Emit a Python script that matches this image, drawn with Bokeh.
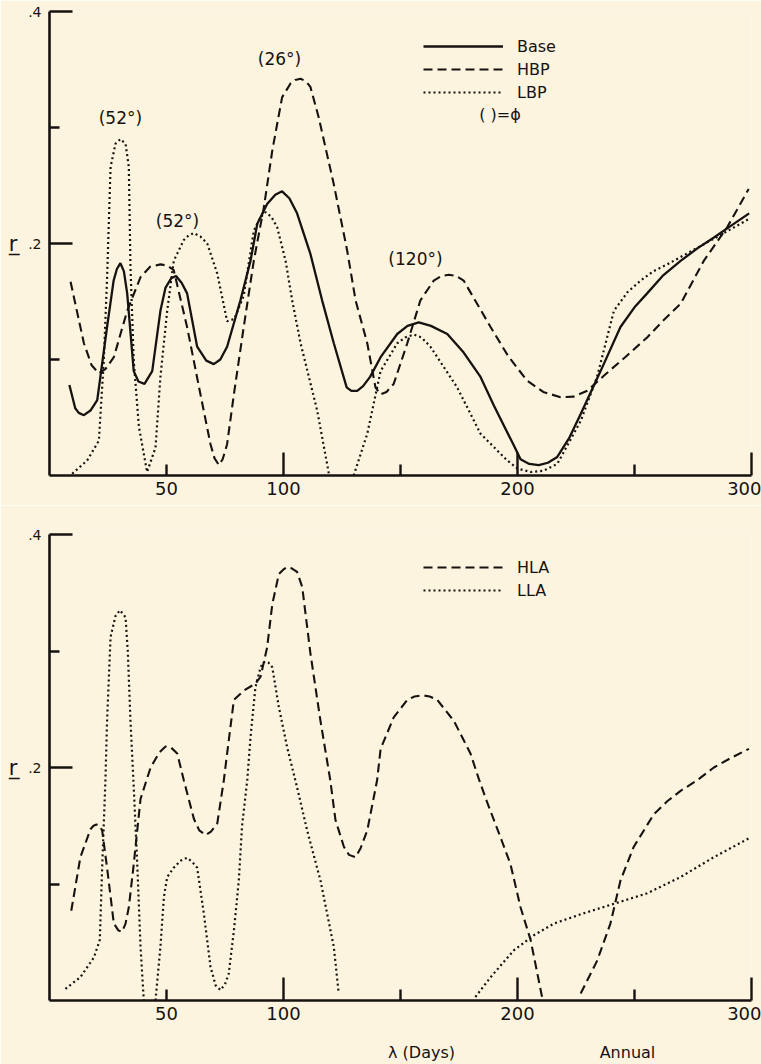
from bokeh.plotting import figure
from bokeh.models import (Range1d, LinearAxis, FixedTicker, Label, Legend, LegendItem)
from bokeh.layouts import column
from bokeh.embed import file_html
from bokeh.resources import INLINE

nan = float("nan")

# ---------------- data ----------------
x_ticks_labeled = [50, 100, 200, 300]
x_ticks_major = [100, 200, 300]
x_ticks_minor = [50, 150, 250]
y_ticks_major = [0.2, 0.4]
y_ticks_minor = [0.1, 0.3]
y_tick_labels = {0.2: ".2", 0.4: ".4"}
y_name = "r\u0332"
x_names = {159: "\u03bb (Days)", 247: "Annual"}

# top panel
base_x = [8.5, 11.0, 12.5, 14.7, 17.5, 20.4, 24.6, 27.4, 28.8, 30.3, 31.8, 33.2, 36.0, 38.0, 40.6,
          43.9, 47.4, 49.6, 52.0, 54.1, 56.5, 58.8, 63.1, 67.0, 70.2, 73.0, 75.9, 81.6, 85.9,
          88.8, 93.0, 96.5, 99.4, 102.5, 105.8, 111.5, 116.5, 121.5, 127.0, 129.0, 131.5, 134.0,
          137.0, 141.5, 148.6, 153.0, 157.8, 163.0, 170.0, 177.0, 184.2, 190.0, 198.4, 201.3,
          205.0, 209.1, 213.0, 217.0, 222.0, 227.0, 235.5, 244.0, 250.0, 255.4, 262.0, 269.7,
          277.0, 283.8, 291.0, 299.0]
base_r = [0.078, 0.058, 0.054, 0.052, 0.056, 0.065, 0.128, 0.168, 0.178, 0.183, 0.176, 0.157, 0.090,
          0.081, 0.079, 0.090, 0.142, 0.162, 0.170, 0.172, 0.166, 0.157, 0.111, 0.099, 0.096,
          0.100, 0.111, 0.151, 0.185, 0.217, 0.234, 0.242, 0.245, 0.239, 0.226, 0.191, 0.151,
          0.114, 0.076, 0.073, 0.073, 0.077, 0.085, 0.102, 0.122, 0.129, 0.132, 0.129, 0.122,
          0.106, 0.085, 0.060, 0.026, 0.014, 0.010, 0.009, 0.011, 0.016, 0.032, 0.053, 0.090,
          0.128, 0.145, 0.157, 0.172, 0.185, 0.196, 0.205, 0.215, 0.226]

hbp_x = [9.0, 14.7, 18.0, 21.1, 24.0, 27.5, 33.2, 38.9, 43.0, 47.4, 50.3, 53.1, 58.8, 64.5, 68.8,
         70.5, 72.4, 74.0, 75.9, 78.8, 83.0, 87.3, 91.6, 95.2, 99.4, 103.0, 105.0, 107.3, 109.5,
         111.5, 115.0, 121.5, 127.2, 130.8, 135.8, 139.3, 141.5, 144.0, 147.1, 152.9, 158.5,
         164.2, 167.5, 170.6, 173.8, 177.0, 188.5, 196.0, 204.0, 211.0, 218.4, 224.0, 229.8,
         236.9, 246.0, 255.4, 262.0, 269.7, 279.6, 289.6, 298.8]
hbp_r = [0.167, 0.114, 0.095, 0.088, 0.092, 0.102, 0.142, 0.171, 0.180, 0.182, 0.181, 0.177, 0.128,
         0.070, 0.027, 0.015, 0.009, 0.014, 0.027, 0.070, 0.128, 0.185, 0.231, 0.280, 0.326,
         0.338, 0.341, 0.342, 0.340, 0.335, 0.309, 0.251, 0.194, 0.151, 0.114, 0.076, 0.070,
         0.072, 0.079, 0.114, 0.151, 0.168, 0.172, 0.173, 0.172, 0.168, 0.128, 0.103, 0.082,
         0.072, 0.0675, 0.068, 0.073, 0.086, 0.102, 0.119, 0.133, 0.148, 0.185, 0.214, 0.247]

lbp_x = [9.7, 16.1, 21.1, 23.2, 24.6, 26.1, 28.2, 30.3, 32.5, 33.9, 34.6, 36.0, 38.2, 41.7, 45.3,
         47.4, 50.3, 53.1, 57.4, 59.5, 61.7, 64.5, 67.4, 71.7, 75.9, 79.0, 83.0, 87.3, 90.0,
         92.3, 94.8, 97.3, 100.9, 103.7, 107.3, 114.4, 119.4, nan, 130.0, 135.8, 141.5, 148.6,
         152.0, 155.7, 159.0, 162.8, 174.2, 184.2, 195.6, 200.0, 205.6, 211.0, 217.0, 227.0,
         234.0, 241.2, 247.0, 252.6, 258.0, 264.0, 283.8, 298.8]
lbp_r = [0.0015, 0.013, 0.030, 0.099, 0.170, 0.266, 0.286, 0.290, 0.286, 0.266, 0.180, 0.099, 0.042,
         0.003, 0.024, 0.085, 0.142, 0.185, 0.203, 0.207, 0.209, 0.206, 0.200, 0.174, 0.133,
         0.135, 0.155, 0.211, 0.222, 0.227, 0.223, 0.214, 0.185, 0.151, 0.114, 0.056, 0.0015,
         nan, 0.0, 0.036, 0.090, 0.114, 0.119, 0.1215, 0.119, 0.111, 0.076, 0.036, 0.013, 0.006,
         0.003, 0.004, 0.010, 0.047, 0.085, 0.142, 0.158, 0.168, 0.176, 0.182, 0.204, 0.221]

# bottom panel
hla_x = [9.3, 13.2, 17.5, 18.8, 20.1, 21.3, 22.5, 24.6, 27.5, 29.5, 31.0, 32.5, 33.9, 36.0, 38.9,
         43.2, 47.0, 49.6, 52.0, 54.6, 57.4, 61.7, 64.0, 66.7, 69.0, 71.7, 74.5, 75.9, 78.8, 83.0,
         88.0, 90.2, 93.0, 95.2, 98.0, 100.0, 101.6, 103.5, 105.8, 108.0, 111.5, 115.8, 120.0,
         122.2, 125.8, 128.0, 130.8, 133.0, 135.8, 140.0, 141.5, 147.1, 152.9, 156.0, 159.3,
         162.5, 165.7, 172.8, 179.9, 183.5, 186.5, 189.9, 193.5, 197.0, 201.3, 205.6, 210.5,
         nan, 227.0, 234.0, 239.7, 244.0, 249.7, 258.3, 264.0, 269.7, 276.8, 283.9, 291.0, 298.9]
hla_r = [0.077, 0.123, 0.147, 0.150, 0.151, 0.150, 0.146, 0.114, 0.066, 0.060, 0.059, 0.066, 0.080,
         0.117, 0.173, 0.200, 0.213, 0.218, 0.217, 0.212, 0.189, 0.156, 0.146, 0.142, 0.145,
         0.152, 0.189, 0.212, 0.258, 0.266, 0.272, 0.278, 0.303, 0.340, 0.366, 0.370, 0.372,
         0.371, 0.368, 0.355, 0.298, 0.240, 0.189, 0.155, 0.132, 0.125, 0.123, 0.131, 0.146,
         0.189, 0.216, 0.243, 0.258, 0.261, 0.262, 0.261, 0.258, 0.240, 0.212, 0.190, 0.173,
         0.155, 0.136, 0.117, 0.080, 0.052, 0.003, nan, 0.006, 0.034, 0.066, 0.103, 0.132,
         0.160, 0.171, 0.180, 0.189, 0.200, 0.208, 0.216]

lla_x = [6.8, 13.2, 19.0, 21.5, 22.5, 23.9, 24.6, 26.1, 28.2, 30.1, 32.5, 33.5, 34.6, 36.0, 37.5,
         38.9, 40.3, nan, 45.3, 47.4, 48.9, 50.3, 53.1, 56.0, 58.8, 61.0, 63.1, 66.0, 68.8, 71.0,
         73.1, 75.0, 76.6, 78.8, 80.9, 82.3, 84.5, 85.9, 88.0, 90.2, 91.3, 92.3, 93.6, 95.2,
         98.0, 101.6, 105.8, 110.1, 115.8, 121.5, 123.6, nan, 182.0, 188.5, 198.4, 207.0, 215.5,
         227.0, 241.2, 255.4, 269.7, 283.9, 299.6]
lla_r = [0.010, 0.020, 0.037, 0.052, 0.114, 0.189, 0.240, 0.312, 0.330, 0.335, 0.329, 0.298, 0.240,
         0.183, 0.117, 0.046, 0.0, nan, 0.0, 0.046, 0.089, 0.106, 0.114, 0.120, 0.1225, 0.119,
         0.114, 0.074, 0.029, 0.013, 0.009, 0.014, 0.023, 0.060, 0.103, 0.150, 0.189, 0.226,
         0.269, 0.286, 0.290, 0.291, 0.290, 0.286, 0.252, 0.217, 0.183, 0.146, 0.103, 0.046,
         0.006, nan, 0.003, 0.020, 0.043, 0.056, 0.066, 0.074, 0.083, 0.092, 0.106, 0.123, 0.140]

phase_texts = ["(52°)", "(52°)", "(26°)", "(120°)"]
phase_x = [30.3, 54.7, 98.3, 156.4]
phase_y = [0.308, 0.219, 0.359, 0.187]

for a, b in [(base_x, base_r), (hbp_x, hbp_r), (lbp_x, lbp_r), (hla_x, hla_r), (lla_x, lla_r)]:
    assert len(a) == len(b), (len(a), len(b))

# ---------------- styling ----------------
BG = "#fcf4df"
INK = "#161210"
FONT = "DejaVu Sans"


def bare_axis(ticks, overrides, standoff, size):
    return LinearAxis(ticker=FixedTicker(ticks=ticks, minor_ticks=[]),
                      major_label_overrides=overrides,
                      major_tick_in=0, major_tick_out=0, axis_line_color=None,
                      major_tick_line_color=None, minor_tick_line_color=None,
                      major_label_standoff=standoff, major_label_text_font=FONT,
                      major_label_text_font_size=size, major_label_text_color=INK)


def make_fig(height, top, bottom):
    p = figure(width=761, height=height, x_range=Range1d(0, 300), y_range=Range1d(0, 0.4),
               output_backend="svg", toolbar_location=None,
               x_axis_location=None, y_axis_location=None,
               min_border_left=49, min_border_right=10, min_border_top=top,
               min_border_bottom=bottom, background_fill_color=BG, border_fill_color=BG,
               outline_line_color=None)
    p.grid.visible = False
    # tick-only x axis
    xt = LinearAxis(ticker=FixedTicker(ticks=x_ticks_major, minor_ticks=x_ticks_minor),
                    major_tick_in=23, major_tick_out=0, minor_tick_in=11, minor_tick_out=0,
                    axis_line_width=2.6, axis_line_color=INK,
                    major_tick_line_width=2.4, major_tick_line_color=INK,
                    minor_tick_line_width=2.4, minor_tick_line_color=INK,
                    major_label_text_font_size="1px", major_label_text_alpha=0,
                    major_label_standoff=0)
    p.add_layout(xt, "below")
    # label-only x axis
    p.add_layout(bare_axis(x_ticks_labeled, {}, 6, "18px"), "below")
    ya = LinearAxis(ticker=FixedTicker(ticks=y_ticks_major, minor_ticks=y_ticks_minor),
                    major_tick_in=23, major_tick_out=0, minor_tick_in=10, minor_tick_out=0,
                    axis_line_width=2.6, axis_line_color=INK,
                    major_tick_line_width=2.4, major_tick_line_color=INK,
                    minor_tick_line_width=2.4, minor_tick_line_color=INK,
                    major_label_overrides=y_tick_labels, major_label_standoff=8,
                    major_label_text_font=FONT, major_label_text_font_size="14px",
                    major_label_text_color=INK)
    p.add_layout(ya, "left")
    # y name "r" next to the .2 label
    p.add_layout(bare_axis([0.2], {0.2: y_name}, 8, "21px"), "left")
    return p


def solid(p, x, y):
    return p.line(x, y, line_color=INK, line_width=2.3)


def dashed(p, x, y):
    return p.line(x, y, line_color=INK, line_width=2.1, line_dash="9 5")


def dotted(p, x, y):
    return p.line(x, y, line_color=INK, line_width=2.2, line_dash="2 3")


def style_legend(lg, loc):
    lg.location = loc
    lg.orientation = "vertical"
    lg.glyph_width = 80
    lg.glyph_height = 20
    lg.label_height = 20
    lg.spacing = 3
    lg.padding = 0
    lg.margin = 0
    lg.label_standoff = 14
    lg.border_line_color = None
    lg.background_fill_alpha = 0
    lg.label_text_font = FONT
    lg.label_text_font_size = "16px"
    lg.label_text_color = INK


# ---------------- top panel ----------------
p1 = make_fig(505, 11, 30)
r_base = solid(p1, base_x, base_r)
r_hbp = dashed(p1, hbp_x, hbp_r)
r_lbp = dotted(p1, lbp_x, lbp_r)
lg1 = Legend(items=[LegendItem(label="Base", renderers=[r_base]),
                    LegendItem(label="HBP", renderers=[r_hbp]),
                    LegendItem(label="LBP", renderers=[r_lbp])])
style_legend(lg1, (374, 373))
p1.add_layout(lg1)
p1.add_layout(Label(x=193.6, y=0.311, text="(  )=\u03d5", text_align="center",
                    text_baseline="middle", text_font=FONT, text_font_size="16px",
                    text_color=INK))
for t, xx, yy in zip(phase_texts, phase_x, phase_y):
    p1.add_layout(Label(x=xx, y=yy, text=t, text_align="center", text_baseline="middle",
                        text_font=FONT, text_font_size="17px", text_color=INK))

# ---------------- bottom panel ----------------
p2 = make_fig(559, 29, 64)
r_hla = dashed(p2, hla_x, hla_r)
r_lla = dotted(p2, lla_x, lla_r)
lg2 = Legend(items=[LegendItem(label="HLA", renderers=[r_hla]),
                    LegendItem(label="LLA", renderers=[r_lla])])
style_legend(lg2, (374, 400))
p2.add_layout(lg2)
# axis names under the bottom panel
p2.add_layout(bare_axis(list(x_names.keys()), x_names, 20, "16px"), "below")

layout = column(p1, p2, spacing=0)
open("out.html", "w").write(file_html(layout, INLINE))
